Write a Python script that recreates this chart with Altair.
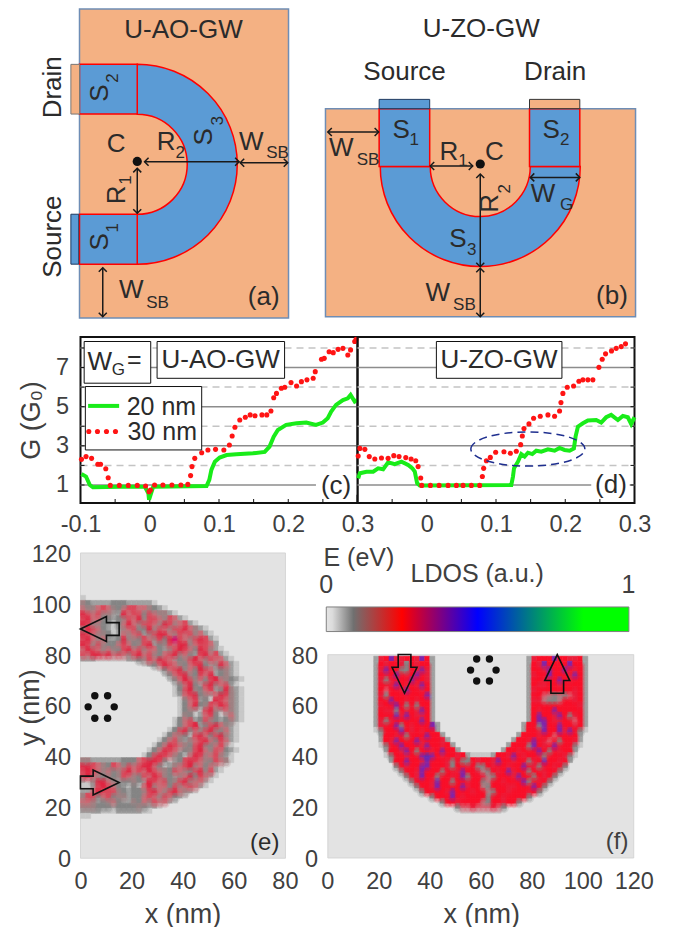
import math
import altair as alt
import pandas as pd

alt.data_transformers.disable_max_rows()

FONT = "Liberation Sans"
INK = "#2b2b2b"
GREY_INK = "#404040"
TAN = "#f4b183"
BLUE = "#5b9bd5"
FRAME = "#6e8db5"
RED = "#ff0000"

# ---------- panel (c) ----------
c_red_x = [-0.0986,-0.092,-0.084,-0.075,-0.071,-0.0635,-0.060,-0.057,-0.044,-0.031,-0.018,-0.006,-0.001,0.001,0.007,0.019,0.032,0.045,0.055,0.059,0.061,0.065,0.075,0.084,0.095,0.107,0.115,0.119,0.123,0.130,0.138,0.145,0.152,0.162,0.169,0.175,0.179,0.183,0.190,0.195,0.204,0.212,0.219,0.227,0.236,0.239,0.248,0.252,0.259,0.265,0.272,0.279,0.286,0.290,0.296,0.298]
c_red_y = [2.31,2.45,2.36,2.06,2.06,1.83,1.37,0.98,0.98,0.98,0.98,0.95,0.66,0.74,1.0,1.0,1.0,1.0,1.03,1.48,1.94,2.36,2.65,2.79,2.82,2.79,3.04,3.5,3.95,4.32,4.46,4.58,4.54,4.58,4.58,4.78,5.46,5.68,5.94,5.99,6.23,6.06,6.28,6.37,6.45,6.79,7.42,7.47,7.81,7.76,7.93,7.98,7.64,7.9,8.33,8.44]
c_green_x = [-0.0986,-0.092,-0.0865,-0.082,-0.043,-0.007,-0.002,-0.001,0.002,0.005,0.082,0.086,0.089,0.094,0.101,0.111,0.125,0.149,0.166,0.173,0.179,0.185,0.197,0.212,0.226,0.240,0.25,0.257,0.262,0.269,0.279,0.286,0.29,0.296,0.3]
c_green_y = [1.56,1.43,1.0,0.88,0.91,0.91,0.58,0.25,0.58,0.91,0.95,1.26,1.77,2.19,2.40,2.53,2.57,2.62,2.69,2.96,3.47,3.81,4.07,4.15,4.19,4.07,4.19,4.41,4.75,5.09,5.34,5.43,5.6,5.26,5.34]

# ---------- panel (d) ----------
d_red_x = [-0.099,-0.0966,-0.0894,-0.083,-0.075,-0.0654,-0.0558,-0.0476,-0.04,-0.0303,-0.0226,-0.0159,-0.0125,-0.0087,-0.0072,0.0053,0.0178,0.0308,0.0428,0.0524,0.0644,0.0764,0.0803,0.0822,0.0861,0.0918,0.0995,0.1115,0.1207,0.1293,0.1356,0.138,0.1404,0.1476,0.1543,0.1639,0.175,0.1846,0.1918,0.1938,0.1966,0.2029,0.212,0.2197,0.2255,0.2327,0.2399,0.2486,0.2534,0.2582,0.2668,0.2736,0.2808,0.287]
d_red_y = [2.48,2.87,2.82,2.45,2.33,2.38,2.36,2.5,2.45,2.4,2.33,2.24,1.94,1.36,0.98,0.98,0.98,0.98,0.98,0.98,0.98,0.98,1.43,1.85,2.24,2.41,2.67,2.70,2.62,2.72,3.06,3.5,3.88,4.12,4.41,4.51,4.58,4.51,4.78,5.21,5.68,5.99,6.06,6.3,6.37,6.37,6.37,7.01,7.42,7.7,7.85,7.98,8.07,8.21]
d_green_x = [-0.099,-0.0966,-0.087,-0.0774,-0.0702,-0.063,-0.0558,-0.0462,-0.0365,-0.0269,-0.0207,-0.0173,-0.0139,-0.0101,0.1221,0.1245,0.126,0.1317,0.1365,0.1413,0.1462,0.1524,0.1582,0.1654,0.175,0.1846,0.1918,0.199,0.2063,0.2125,0.2149,0.2183,0.2255,0.2327,0.2447,0.2519,0.2591,0.2663,0.276,0.2832,0.2904,0.2952,0.3]
d_green_y = [1.34,1.6,1.68,1.68,1.85,1.8,2.16,2.06,2.19,2.02,1.85,1.68,1.09,0.97,1.0,1.43,1.85,2.19,2.58,2.45,2.65,2.58,2.75,2.7,2.82,2.75,2.89,2.79,2.75,2.87,3.47,3.98,4.15,4.29,4.32,4.19,4.46,4.58,4.32,4.53,4.46,4.12,4.46]

legend_dot_x = [-0.088,-0.0755,-0.0625,-0.0495]
g_odd = [1,3,5,7]
g_even = [2,4,6,8]
x_tick_values = [-0.1,-0.05,0,0.05,0.1,0.15,0.2,0.25,0.3]
g_tick_values = [1,2,3,4,5,6,7,8]
x_labels_c = [-0.1,0,0.1,0.2,0.3]
x_labels_d = [0,0.1,0.2,0.3]

# ---------- LDOS maps: one digit per 2 nm x 2 nm cell ----------
LEVELS_E = [0,0.03,0.06,0.09,0.11,0.15,0.19,0.22,0.29,0.42]
LEVELS_F = [0,0.03,0.06,0.09,0.13,0.17,0.23,0.25,0.38,0.42]
bar_offsets = [0,0.02,0.09,0.25,0.5,0.85,1]
bar_colors = ["#e4e4e4","#dcdcdc","#707070","#ff0000","#0000ff","#00ff00","#00ff00"]
map_offsets = [0,0.03,0.06,0.09,0.13,0.17,0.21,0.25,0.33,0.42]
map_colors = ["#e3e3e3","#c8c8c8","#a0a0a0","#868686","#b87a80","#dc6070","#d82c48","#fa102a","#a02890","#5030c0"]

e_rows = [
"21000",
"44322 22333 22222 10",
"65445 65435 66554 3 21",
"77656 44227 56636 544 21",
"56755 33234 65746 65465 21",
"67644 32135 75466 54764 56 21",
"54765 32124 56337 46546 6754 21",
"47654 43125 45624 67754 65645 21",
"66754 52237 44365 46378 65467 6 21",
"57646 43356 53467 23465 77456 65 2",
"35765 45436 75645 53246 76537 64 21",
"46577 67565 46756 43567 45326 756 21",
"22221 11111 22346 57652 34675 4655 21",
"10000 00000 00012 35765 43567 32475 21",
"00000 00000 00000 01356 74537 65234 21",
"00000 00000 00000 00135 67436 57234 21",
"00000 00000 00000 00013 57645 36754 321",
"00000 00000 00000 00001 35732 67456 21",
"00000 00000 00000 00001 36743 56237 421",
"00000 00000 00000 00001 25673 42576 421",
"00000 00000 00000 00000 13562 31765 421",
"00000 00000 00000 00000 13573 46576 421",
"00000 00000 00000 00000 13421 67425 421",
"00000 00000 00000 00000 14312 56312 521",
"00000 00000 00000 00001 35623 64323 421",
"00000 00000 00000 00001 35672 36754 21",
"00000 00000 00000 00013 67354 67435 21",
"00000 00000 00000 00135 43167 53674 21",
"00000 00000 00000 01356 42456 75365 21",
"00000 00000 00000 13576 54367 43562 1",
"00000 00000 00001 35765 23467 54653 21",
"00000 00000 00013 67654 31576 45642 1",
"34422 22223 33567 76312 36765 43654 1",
"67765 43654 65677 53124 56745 35 21",
"56765 45346 75657 65436 54367 46 21",
"46754 34346 54365 76432 45736 5 21",
"52147 75423 34327 65634 67455 21",
"31126 76532 13157 45536 4565 21",
"42257 66643 23346 75467 54 21",
"54663 56344 23356 54653 21",
"65542 34532 24354 655 21",
"64443 33233 33432 21",
"42222 11122 22211",
"21100",
]

f_rows = [
"2 6786677687 2 00000 00000 00000 000 2 6777877667 2",
"2 7677637677 2 00000 00000 00000 000 2 7687777877 2",
"2 6877337686 2 00000 00000 00000 000 2 7768778767 2",
"2 7678767876 2 00000 00000 00000 000 2 6778777687 2",
"2 6367778776 2 00000 00000 00000 000 2 7767787677 2",
"2 7768767687 2 00000 00000 00000 000 2 7667767777 2",
"2 7577687767 2 00000 00000 00000 000 2 6777777767 2",
"2 6377777778 2 00000 00000 00000 000 2 7754343567 2",
"2 7787767677 2 00000 00000 00000 000 2 6643347767 2",
"2 6778737377 2 00000 00000 00000 000 2 7777777776 2",
"2 7663767687 2 00000 00000 00000 000 2 7677877777 2",
"2 7778687667 2 00000 00000 00000 000 2 7877687367 2",
"2 6367777787 2 00000 00000 00000 000 2 7887667757 2",
"2 67783767778 2 00000 00000 000000 2 77387787767 2",
"13 7778767677 2 00000 00000 000000 2 7768778687 31",
"02 77673777877 2 00000 00000 0000 2 77767757777 20",
"02 768777867776 2 00000 00000 00 2 776876573776 20",
"013 778777687767 2 00000 00000 2 777387678777 310",
"002 7768737767877 2 00000 000 2 7767778737677 200",
"0013 77677898767767 2 1111 2 77687677637776 3100",
"0002 77877 68777 63733 76776 87767 73678 7767 2000",
"00003 76778 87776 37767 33767 76778 76377 67 30000",
"000003 77687 77377 68776 43767 86773 77677 300000",
"0000003 76877 37767 83776 43777 68773 767 3000000",
"00000003 77768 77377 67734 77677 78376 7 30000000",
"000000003 77687 77786 77437 77667 7787 300000000",
"0000000003 77776 87776 77437 76777 67 3000000000",
"00000000000 3 77787 67777 37767 777 3 00000000000",
"00000 00000 000 3 77677 77437 7677 3 00000 00000 000",
"00000 00000 000000 3 55655565 3 00000 00000 000000",
"00000 00000 0000000 11111111",
]

# ---------- annotations: text, x, y, size, angle (panel units) ----------
a_text = [
("U-AO-GW",39.8,111.8,26,0),("Drain",-10.2,89.6,26,270),("Source",-10.2,31.6,26,270),
("S",7.9,87.3,26,270),("2",12.8,93.2,17,270),("S",7.9,29.6,26,270),("1",12.8,35,17,270),
("S",47.8,70.4,26,270),("3",52.9,76.6,17,270),("C",14,67.6,26,0),
("R",33.2,68.5,26,0),("2",38.6,64.2,17,0),("R",14.3,47.8,26,270),("1",17.9,53.6,17,270),
("W",65.7,68.5,26,0),("SB",75.8,64.2,17,0),("W",19.8,10.9,26,0),("SB",29.9,5.9,17,0),("(a)",70.5,8.3,26,0),
]
b_text = [
("U-ZO-GW",60.1,112.1,26,0),("Source",30.5,95.4,26,0),("Drain",88.6,95.4,26,0),
("S",29.2,73,26,0),("1",34.2,69.1,17,0),("S",87.1,73,26,0),("2",92.3,69.1,17,0),
("W",6.1,65.9,26,0),("SB",16.4,61.4,17,0),("R",47.6,64.6,26,0),("1",53,61,17,0),("C",65.2,64.6,26,0),
("R",63.3,44.5,26,270),("2",69.3,50.2,17,270),("W",83.9,48.2,26,0),("G",93,43.9,17,0),
("S",51.1,30.6,26,0),("3",56.4,26.4,17,0),("W",43.3,9.8,26,0),("SB",53.6,5,17,0),("(b)",110.5,8.5,26,0),
]
c_text = [
("W",-0.072,7.3,26,0),("G",-0.0455,6.88,17,0),("=",-0.0224,7.39,25,0),("U-AO-GW",0.1024,7.39,26,0),
("20 nm",0.0168,5.0,25,0),("30 nm",0.018,3.7,25,0),("(c)",0.269,0.95,26,0),
]
d_text = [("U-ZO-GW",0.1043,7.39,26,0),("(d)",0.266,1.0,26,0)]
e_text = [("(e)",72.1,6.5,24,0)]
f_text = [("E (eV)",12.2,118.7,25,0),("LDOS (a.u.)",58.6,112.4,25,0),("0",-0.6,108.2,25,0),("1",117.9,108.2,25,0),("(f)",113.5,6.9,24,0),("0",0,-9.1,23.5,0)]

# arrows: fixed coordinate, start, end
a_h_arrows = [(60.7,24.9,61.1),(60.3,61.5,79.7)]
a_v_arrows = [(22.1,40.7,58.1),(8.9,0.5,19.5)]
b_h_arrows = [(72.2,0.9,20.5),(59,40.4,56.8),(54.6,79,98.1)]
b_v_arrows = [(59.7,19.9,55.9),(59.7,0.5,19.3)]

e_block_arrows = [(7.55,90.7,270),(7.55,30.2,90)]
f_block_arrows = [(30.1,73,180),(90,73,0)]
e_dots = [(5.6,64.4),(10.6,64.4),(3,60),(13.2,60),(5.6,55.5),(10.6,55.5)]
f_dots = [(58.4,78.9),(63.4,78.9),(56,74.5),(66,74.5),(58.4,70.2),(63.4,70.2)]

BLOCK_ARROW = "M0,-1 L0.646,0.344 L0.328,0.344 L0.328,1 L-0.328,1 L-0.328,0.344 L-0.646,0.344 Z"
HEAD = "M-1,1 L0,0 L1,1"
ELLIPSE = "M-1,0 A1,0.3 0 1,1 1,0 A1,0.3 0 1,1 -1,0 Z"


class P:
    """Shared position channels of one panel."""
    def __init__(self, xd, yd, xaxis=None, yaxis=None):
        self.sx = alt.Scale(domain=xd, nice=False, zero=False)
        self.sy = alt.Scale(domain=yd, nice=False, zero=False)
        self.xaxis, self.yaxis = xaxis, yaxis

    def x(self, f="x"):
        return alt.X(f"{f}:Q", scale=self.sx, axis=self.xaxis)

    def y(self, f="y"):
        return alt.Y(f"{f}:Q", scale=self.sy, axis=self.yaxis)

    def rect(self, rows, **mk):
        df = pd.DataFrame(rows, columns=["x", "x2", "y", "y2"])
        return alt.Chart(df).mark_rect(**mk).encode(x=self.x(), x2="x2:Q", y=self.y(), y2="y2:Q")

    def hrule(self, ys, x0, x1, **mk):
        df = pd.DataFrame({"y": ys, "x": x0, "b": x1})
        return alt.Chart(df).mark_rule(**mk).encode(x=self.x(), x2="b:Q", y=self.y())

    def text(self, rows, color=INK):
        df = pd.DataFrame(rows, columns=["t", "x", "y", "s", "a"])
        return alt.Chart(df).mark_text(font=FONT, baseline="middle", align="center", color=color).encode(
            x=self.x(), y=self.y(), text="t:N",
            size=alt.Size("s:Q", scale=None), angle=alt.Angle("a:Q", scale=None))

    def shapes(self, rows, size, **mk):
        df = pd.DataFrame(rows, columns=["x", "y", "a"])
        return alt.Chart(df).mark_point(**mk).encode(
            x=self.x(), y=self.y(), angle=alt.Angle("a:Q", scale=None), size=alt.value(size))

    def dots(self, rows, size, color="#111111"):
        df = pd.DataFrame(rows, columns=["x", "y"])
        return alt.Chart(df).mark_circle(color=color, opacity=1, size=size).encode(x=self.x(), y=self.y())

    def arrows(self, hs, vs):
        hd = pd.DataFrame(hs, columns=["y", "x", "x2"])
        vd = pd.DataFrame(vs, columns=["x", "y", "y2"])
        heads = [(x0, y, 270) for y, x0, _ in hs] + [(x1, y, 90) for y, _, x1 in hs] + \
                [(x, y0, 180) for x, y0, _ in vs] + [(x, y1, 0) for x, _, y1 in vs]
        return [
            alt.Chart(hd).mark_rule(color="#1a1a1a", strokeWidth=1.5).encode(x=self.x(), x2="x2:Q", y=self.y()),
            alt.Chart(vd).mark_rule(color="#1a1a1a", strokeWidth=1.5).encode(x=self.x(), y=self.y(), y2="y2:Q"),
            self.shapes(heads, 64, shape=HEAD, filled=False, color="#1a1a1a", strokeWidth=1.5, opacity=1),
        ]

    def arc(self, cx, cy, t0, t1):
        df = pd.DataFrame({"x": [cx], "y": [cy]})
        return alt.Chart(df).mark_arc(radius=100, radius2=50, theta=t0, theta2=t1, fill=BLUE,
                                      stroke=RED, strokeWidth=1.5).encode(x=self.x(), y=self.y())


def cells(rows, x0, y_top, levels):
    out = []
    for j, row in enumerate(rows):
        for i, ch in enumerate(row.replace(" ", "")):
            x = x0 + 2 * i
            if ch != "0" and x >= 0:
                y = y_top - 2 * j
                out.append((x, x + 2, y - 1, y + 1, levels[int(ch)]))
    return pd.DataFrame(out, columns=["x", "x2", "y", "y2", "v"])


def heat(p, df, y_limit):
    col = alt.Color("v:Q", scale=alt.Scale(domain=map_offsets, range=map_colors), legend=None)
    rect = alt.Chart(df).mark_rect(strokeWidth=0.5).encode(
        x=p.x(), x2="x2:Q", y=p.y(), y2="y2:Q", color=col, stroke=col)
    soft = df[(df.y2 <= y_limit) & (df.v >= 0.08)].assign(cx=lambda d: d.x + 1)
    big = alt.Chart(soft).mark_circle(size=100, opacity=0.2, clip=True).encode(
        x=p.x("cx"), y=p.y(), color=col)
    small = alt.Chart(soft).mark_circle(size=45, opacity=0.3, clip=True).encode(
        x=p.x("cx"), y=p.y(), color=col)
    return [rect, big, small]


def tick_axis(values, title=None, **kw):
    base = dict(values=values, domain=False, ticks=False, grid=False, labelFont=FONT, labelFontSize=23.5,
                labelColor=GREY_INK, labelOverlap=False, labelFlush=False, title=title)
    if title:
        base.update(titleFont=FONT, titleFontSize=27, titleFontWeight="normal", titleColor=GREY_INK)
    base.update(kw)
    return alt.Axis(**base)


W, H1, H2, H3 = 277, 328, 166, 356

# ---- (a)
pa = P([0.38, 106.4], [-7.38, 120])
panel_a = alt.layer(
    pa.rect([(0, 80, 0, 120)], fill=TAN, stroke=FRAME, strokeWidth=1.5),
    pa.arc(22.1, 59.7, 0, math.pi),
    pa.rect([(0, 22.1, 79.2, 98.5), (0, 22.1, 20.9, 40.3)], fill=BLUE, stroke=RED, strokeWidth=1.5),
    pa.rect([(-3.3, 0, 79.2, 98.5)], fill=TAN, stroke="#777777", strokeWidth=1),
    pa.rect([(-3.3, -0.3, 20.9, 40.3)], fill=BLUE, stroke="#1f3a5f", strokeWidth=1),
    *pa.arrows(a_h_arrows, a_v_arrows),
    pa.dots([(22.1, 60.8)], 85),
    pa.text(a_text),
).properties(width=W, height=H1)

# ---- (b)
pb = P([12.35, 119.2], [-7.38, 120])
panel_b = alt.layer(
    pb.rect([(0, 119.6, 0.5, 81.3)], fill=TAN, stroke=FRAME, strokeWidth=1.5),
    pb.arc(59.7, 58.8, math.pi / 2, 3 * math.pi / 2),
    pb.rect([(20.7, 40.2, 58.8, 81.3), (78.7, 98.1, 58.8, 81.3)], fill=BLUE, stroke=RED, strokeWidth=1.5),
    pb.rect([(20.7, 40.2, 81.3, 84.9)], fill=BLUE, stroke="#1f3a5f", strokeWidth=1),
    pb.rect([(78.7, 98.1, 81.3, 84.9)], fill=TAN, stroke="#333333", strokeWidth=1),
    *pb.arrows(b_h_arrows, b_v_arrows),
    pb.dots([(59.7, 59.8)], 85),
    pb.text(b_text),
).properties(width=W, height=H1)

LABEL_EXPR = "datum.value == 0 ? '0' : replace(format(datum.value, '.1f'), '\u2212', '-')"


def conductance(p, red_x, red_y, green_x, green_y, right_ticks, boxes_before, boxes_after):
    grid_solid = p.hrule(g_odd, -0.1, 0.3, color="#8c8c8c", strokeWidth=1.5)
    grid_dash = p.hrule(g_even, -0.1, 0.3, color="#c4c4c4", strokeWidth=1.5, strokeDash=[7, 5])
    xt = alt.Chart(pd.DataFrame({"x": x_tick_values})).mark_rule(color="#111111", strokeWidth=1).encode(
        x=p.x(), y=alt.value(H2), y2=alt.value(H2 - 4))
    yt = alt.Chart(pd.DataFrame({"y": g_tick_values})).mark_rule(color="#111111", strokeWidth=1).encode(
        y=p.y(), x=alt.value(W if right_ticks else 0), x2=alt.value(W - 4 if right_ticks else 4))
    green = alt.Chart(pd.DataFrame({"x": green_x, "y": green_y})).mark_line(color="#19ec19", strokeWidth=4).encode(
        x=p.x(), y=p.y())
    red = alt.Chart(pd.DataFrame({"x": red_x, "y": red_y})).mark_circle(color="#ff1414", size=26, opacity=1).encode(
        x=p.x(), y=p.y())
    return [grid_solid, grid_dash, xt, yt, *boxes_before, green, red, *boxes_after]


# ---- (c)
pc = P([-0.1, 0.3], [0.08, 8.56],
       xaxis=tick_axis(x_labels_c, labelExpr=LABEL_EXPR, labelPadding=9),
       yaxis=tick_axis(g_odd, title="G (G\u2080)", labelPadding=12, titleX=-49, titleY=83, titleAngle=270,
                       titleAlign="center", titleBaseline="middle"))
c_boxes = [
    pc.rect([(-0.0947, 0.0014, 6.2, 8.33), (0.0106, 0.1947, 6.45, 8.33), (-0.093, 0.075, 2.79, 6.03)],
            fill="white", stroke="#111111", strokeWidth=1),
]
c_white = [pc.rect([(0.24, 0.3, 0.5, 1.6)], fill="white")]
legend_line = alt.Chart(pd.DataFrame({"x": [-0.089], "x2": [-0.0442], "y": [5.04]})).mark_rule(
    color="#19ec19", strokeWidth=4).encode(x=pc.x(), x2="x2:Q", y=pc.y())
legend_dots = pc.dots([(v, 3.73) for v in legend_dot_x], 26, "#ff1414")
panel_c = alt.layer(
    *conductance(pc, c_red_x, c_red_y, c_green_x, c_green_y, False, c_white, c_boxes),
    legend_line, legend_dots, pc.text(c_text),
).properties(width=W, height=H2, view=alt.ViewBackground(stroke="#111111", strokeWidth=2))

# ---- (d)
pd_ = P([-0.1, 0.3], [0.08, 8.56],
        xaxis=tick_axis(x_labels_d, labelExpr=LABEL_EXPR, labelPadding=9))
d_white = [pd_.rect([(0.2375, 0.293, 0.5, 1.6)], fill="white")]
d_box = [pd_.rect([(0.0139, 0.1952, 6.45, 8.33)], fill="white", stroke="#111111", strokeWidth=1)]
ellipse = pd_.shapes([(0.146, 2.84, 0)], 12996, shape=ELLIPSE, filled=False, color="#1f2f8f",
                     strokeWidth=1.5, strokeDash=[8, 5], opacity=1)
panel_d = alt.layer(
    *conductance(pd_, d_red_x, d_red_y, d_green_x, d_green_y, True, d_white, d_box),
    ellipse, pd_.text(d_text),
).properties(width=W, height=H2, view=alt.ViewBackground(stroke="#111111", strokeWidth=2))

# ---- (e)
xs_e = [0, 20, 40, 60, 80]
ys_e = [0, 20, 40, 60, 80, 100, 120]
pe = P([0, 108.4], [0, 140.4],
       xaxis=tick_axis(xs_e, title="x (nm)", labelPadding=10, titleX=102, titleY=55, titleAlign="center",
                       titleBaseline="middle"),
       yaxis=tick_axis(ys_e, title="y (nm)", labelPadding=10, titleX=-50, titleY=204, titleAngle=270,
                       titleAlign="center", titleBaseline="middle"))
panel_e = alt.layer(
    pe.rect([(0, 80.2, 0.3, 120.7)], fill="#e3e3e3", stroke="#cfcfcf", strokeWidth=0.8),
    *heat(pe, cells(e_rows, -2, 103, LEVELS_E), 200),
    pe.shapes(e_block_arrows, 1498, shape=BLOCK_ARROW, filled=False, color="#111111", strokeWidth=1.6, opacity=1),
    pe.dots(e_dots, 55),
    pe.text(e_text),
).properties(width=W, height=H3)

# ---- (f)
xs_f = [0, 20, 40, 60, 80, 100, 120]
ys_f = [0, 20, 40, 60, 80]
pf = P([11.65, 120.3], [0, 140.4],
       xaxis=tick_axis(xs_f, title="x (nm)", labelPadding=10, titleX=123.7, titleY=55, titleAlign="center",
                       titleBaseline="middle"),
       yaxis=tick_axis(ys_f, labelPadding=10, offset=30))
bar_fill = {"gradient": "linear", "x1": 0, "x2": 1, "y1": 0, "y2": 0,
            "stops": [{"offset": o, "color": c} for o, c in zip(bar_offsets, bar_colors)]}
panel_f = alt.layer(
    pf.rect([(0, 120, 0.4, 80.6)], fill="#e3e3e3", stroke="#cfcfcf", strokeWidth=0.8),
    *heat(pf, cells(f_rows, 18, 79, LEVELS_F), 79),
    pf.rect([(-0.6, 118.1, 89.7, 99.4)], fill=bar_fill, stroke="#808080", strokeWidth=1),
    pf.shapes(f_block_arrows, 1498, shape=BLOCK_ARROW, filled=False, color="#111111", strokeWidth=1.6, opacity=1),
    pf.dots(f_dots, 55),
    pf.text(f_text, GREY_INK),
).properties(width=W, height=H3)

chart = alt.concat(panel_a, panel_b, panel_c, panel_d, panel_e, panel_f,
                   columns=2, spacing=0, bounds="flush").properties(
    padding={"left": 8.5, "top": 0, "right": 0, "bottom": 0}
).configure_view(stroke=None)

chart.save("out.html", embed_options={"renderer": "svg", "actions": False})
